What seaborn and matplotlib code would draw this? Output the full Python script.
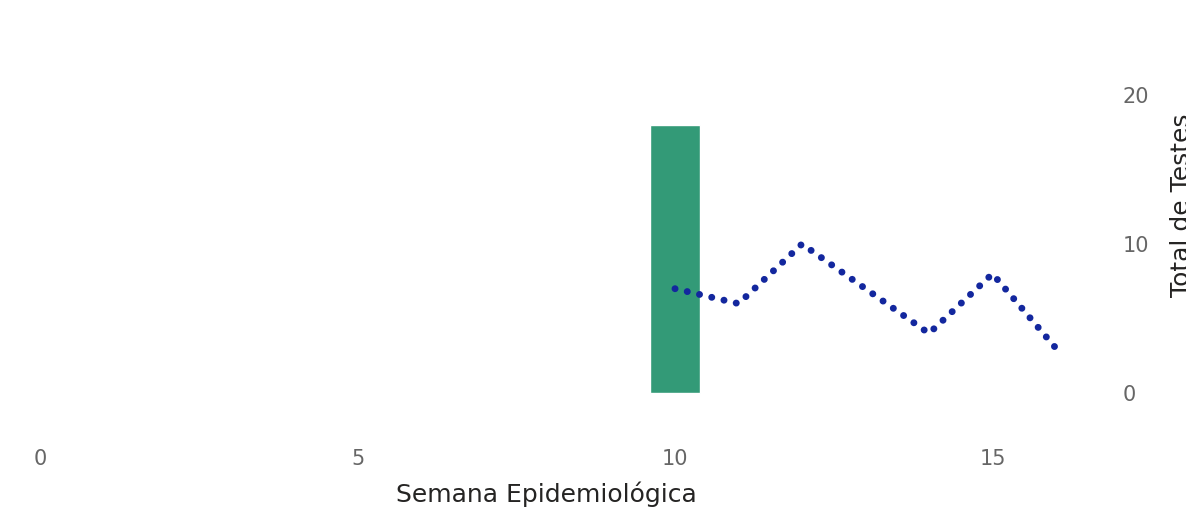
import matplotlib
matplotlib.use("Agg")
import matplotlib.pyplot as plt
import seaborn as sns
import pandas as pd

# Data
bar_weeks = [10]
bar_values = [18]
line_weeks = [10, 11, 12, 13, 14, 15, 16]
line_values = [7, 6, 10, 7, 4, 8, 3]
x_ticks = [0, 5, 10, 15]
y_ticks = [0, 10, 20]

sns.set_theme(style="white")
plt.rcParams['font.family'] = ['DejaVu Sans']

W, H = 1186, 509
fig = plt.figure(figsize=(W / 100, H / 100), dpi=100)
# axes in pixel coords
l, r, t, b = 8, 1100, 60, 420
ax = fig.add_axes([l / W, 1 - b / H, (r - l) / W, (b - t) / H])

px_per_x = 63.5
x0_pix = 40
ax.set_xlim((l - x0_pix) / px_per_x, (r - x0_pix) / px_per_x)
px_per_y = 14.9
y0_pix = 393
ax.set_ylim((y0_pix - b) / px_per_y, (y0_pix - t) / px_per_y)

bar_df = pd.DataFrame({"week": bar_weeks, "value": bar_values})
line_df = pd.DataFrame({"week": line_weeks, "value": line_values})

ax.bar(bar_df["week"], bar_df["value"], width=0.8, color="#339A77", zorder=1)
sns.lineplot(data=line_df, x="week", y="value", ax=ax, color="#13279E",
             linewidth=5, linestyle=(0, (0.01, 1.8)), dash_capstyle="round",
             zorder=2)

for s in ax.spines.values():
    s.set_visible(False)

ax.set_xticks(x_ticks)
ax.set_yticks(y_ticks)
ax.tick_params(axis="x", length=0, pad=21, labelsize=15, labelcolor="#666666")
ax.yaxis.tick_right()
ax.yaxis.set_label_position("right")
ax.tick_params(axis="y", length=0, pad=16, labelsize=15, labelcolor="#666666",
               labelleft=False, labelright=True)
ax.set_xlabel("Semana Epidemiológica", fontsize=18, color="#252423")
ax.xaxis.set_label_coords((546 - l) / (r - l), 1 - (481 - t) / (b - t))
ax.set_ylabel("Total de Testes", fontsize=18, color="#252423")
ax.yaxis.set_label_coords((1170 - l) / (r - l), 1 - (205 - t) / (b - t))

fig.savefig("out.png", dpi=100)
